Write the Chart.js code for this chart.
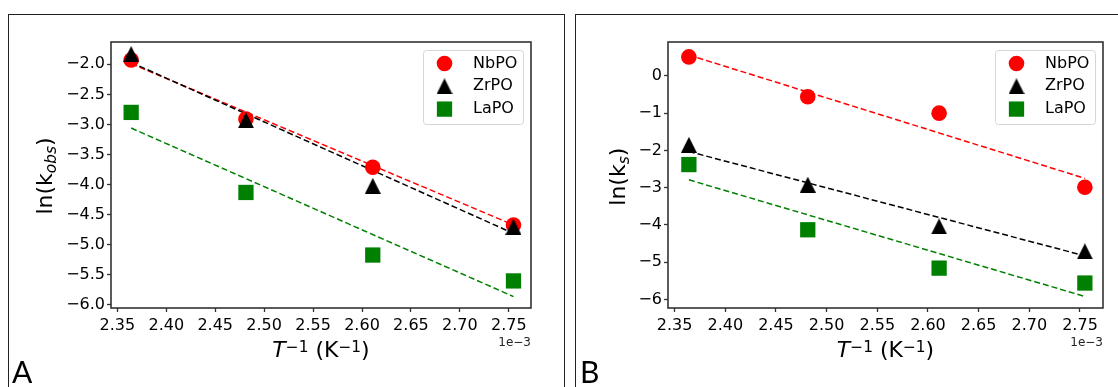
<!DOCTYPE html>
<html><head><meta charset="utf-8">
<script src="https://cdn.jsdelivr.net/npm/chart.js@4.4.1/dist/chart.umd.min.js"></script>
<style>
html,body{margin:0;padding:0;background:#fff;width:1118px;height:387px;overflow:hidden;}
#wrap{position:relative;width:1118px;height:387px;}
.box{position:absolute;border:1.5px solid #222;box-sizing:border-box;}
canvas{position:absolute;top:0;}
.lbl{position:absolute;font-family:Lato,'Open Sans',sans-serif;font-size:30px;color:#000;line-height:30px;}
</style></head>
<body><div id="wrap">
<div class="box" style="left:8px;top:14px;width:557px;height:400px;"></div>
<div class="box" style="left:575px;top:14px;width:560px;height:400px;"></div>
<canvas id="cA" width="570" height="387" style="left:0"></canvas>
<canvas id="cB" width="548" height="387" style="left:570px"></canvas>
<div class="lbl" style="left:12px;top:356px;">A</div>
<div class="lbl" style="left:580px;top:356px;">B</div>
</div>
<script>
// ---- data (x in units of 1e-3 K^-1) ----
const seriesNames = ['NbPO', 'ZrPO', 'LaPO'];
const xVals = [2.3641, 2.4814, 2.6110, 2.7548];
const fitX = [2.3641, 2.7548];
const xTickVals = [2.35, 2.40, 2.45, 2.50, 2.55, 2.60, 2.65, 2.70, 2.75];

const kobsNbPO = [-1.93, -2.91, -3.71, -4.67];
const kobsZrPO = [-1.83, -2.93, -4.02, -4.70];
const kobsLaPO = [-2.80, -4.13, -5.17, -5.60];
const kobsFitNbPO = [-1.99, -4.67];
const kobsFitZrPO = [-1.97, -4.81];
const kobsFitLaPO = [-3.06, -5.86];
const kobsTickVals = [-6.0, -5.5, -5.0, -4.5, -4.0, -3.5, -3.0, -2.5, -2.0];

const ksNbPO = [0.51, -0.56, -1.00, -2.99];
const ksZrPO = [-1.85, -2.92, -4.04, -4.71];
const ksLaPO = [-2.38, -4.13, -5.16, -5.56];
const ksFitNbPO = [0.56, -2.75];
const ksFitZrPO = [-2.03, -4.83];
const ksFitLaPO = [-2.79, -5.92];
const ksTickVals = [-6, -5, -4, -3, -2, -1, 0];

const colors = ['#ff0000', '#000000', '#008000'];
const FONT = "'DejaVu Sans', sans-serif";

function triImg(size) {
  const c = document.createElement('canvas');
  c.width = size; c.height = size;
  const g = c.getContext('2d');
  g.fillStyle = '#000';
  g.beginPath(); g.moveTo(size / 2, 0); g.lineTo(size, size); g.lineTo(0, size); g.closePath(); g.fill();
  return c;
}
const TRI = triImg(16);
const markerStyles = [
  { pointStyle: 'circle', radius: 7.8 },
  { pointStyle: TRI, radius: 8 },
  { pointStyle: 'rect', radius: 10.8 }
];

const pts = (xs, ys) => xs.map((x, i) => ({ x: x, y: ys[i] }));
const minus = s => s.replace('-', '\u2212');

function drawSegs(ctx, segs, cx, by) {
  let total = 0;
  segs.forEach(s => { ctx.font = (s.it ? 'italic ' : '') + s.size + 'px ' + FONT; s.w = ctx.measureText(s.t).width; total += s.w; });
  let x = cx - total / 2;
  ctx.textAlign = 'left'; ctx.textBaseline = 'alphabetic';
  segs.forEach(s => { ctx.font = (s.it ? 'italic ' : '') + s.size + 'px ' + FONT; ctx.fillText(s.t, x, by + (s.dy || 0)); x += s.w; });
}

function makePlugin(cfg) {
  return {
    id: 'deco' + cfg.id,
    afterDraw(chart) {
      const ctx = chart.ctx, ca = chart.chartArea;
      ctx.save();
      // frame
      ctx.strokeStyle = '#333'; ctx.lineWidth = 1.6;
      ctx.strokeRect(ca.left, ca.top, ca.right - ca.left, ca.bottom - ca.top);
      // legend
      const bw = 100, bh = 74;
      const bx = ca.right - 8 - bw, by = ca.top + 8;
      ctx.beginPath();
      ctx.roundRect(bx + 0.5, by + 0.5, bw, bh, 3);
      ctx.fillStyle = 'rgba(255,255,255,0.8)'; ctx.fill();
      ctx.strokeStyle = '#d6d6d6'; ctx.lineWidth = 1; ctx.stroke();
      seriesNames.forEach((name, i) => {
        const y = by + 13.5 + i * 22.8, x = bx + 21.5;
        const m = markerStyles[i];
        ctx.fillStyle = colors[i];
        if (m.pointStyle === 'circle') {
          ctx.beginPath(); ctx.arc(x, y, m.radius, 0, Math.PI * 2); ctx.fill();
        } else if (m.pointStyle === 'rect') {
          const s = m.radius * Math.SQRT1_2;
          ctx.fillRect(x - s, y - s, 2 * s, 2 * s);
        } else {
          ctx.drawImage(TRI, x - TRI.width / 2, y - TRI.height / 2);
        }
        ctx.fillStyle = '#000'; ctx.font = '16px ' + FONT;
        ctx.textAlign = 'left'; ctx.textBaseline = 'middle';
        ctx.fillText(name, bx + 50, y);
      });
      // offset text
      ctx.font = '12px ' + FONT; ctx.fillStyle = '#222';
      ctx.textAlign = 'right'; ctx.textBaseline = 'middle';
      ctx.fillText('1e\u22123', ca.right, 343);
      // x title
      ctx.fillStyle = '#000';
      drawSegs(ctx, [
        { t: 'T', size: 22, it: true },
        { t: '\u22121', size: 15.4, dy: -5 },
        { t: ' (K', size: 22 },
        { t: '\u22121', size: 15.4, dy: -5 },
        { t: ')', size: 22 }
      ], (ca.left + ca.right) / 2, 356.5);
      // y title
      ctx.save();
      ctx.translate(cfg.yTitleX, cfg.yTitleY);
      ctx.rotate(-Math.PI / 2);
      drawSegs(ctx, cfg.ySegs, 0, 0);
      ctx.restore();
      ctx.restore();
    }
  };
}

function makeChart(cfg) {
  const ds = [];
  const fits = cfg.fits, marks = cfg.marks;
  fits.forEach((f, i) => ds.push({
    label: seriesNames[i] + ' fit', data: pts(fitX, f), showLine: true, pointRadius: 0,
    borderColor: colors[i], borderWidth: 1.5, borderDash: [6, 3], order: 10 - i
  }));
  marks.forEach((m, i) => ds.push({
    label: seriesNames[i], data: pts(xVals, m), showLine: false,
    pointStyle: markerStyles[i].pointStyle, pointRadius: markerStyles[i].radius,
    pointHoverRadius: markerStyles[i].radius,
    pointBackgroundColor: colors[i], pointBorderColor: colors[i], pointBorderWidth: 0, order: 5 - i
  }));
  const tickFont = { family: FONT, size: 16 };
  return new Chart(document.getElementById(cfg.id), {
    type: 'scatter',
    data: { datasets: ds },
    options: {
      responsive: false, animation: false, devicePixelRatio: 1,
      layout: { padding: { left: cfg.padL, top: 42, right: cfg.padR, bottom: 49 } },
      plugins: { legend: { display: false }, tooltip: { enabled: false } },
      events: [],
      scales: {
        x: {
          type: 'linear', min: 2.3435, max: 2.7727,
          afterBuildTicks: s => { s.ticks = xTickVals.map(v => ({ value: v })); },
          afterFit: s => { s.height = 30; },
          border: { display: false },
          grid: { drawOnChartArea: false, drawTicks: true, tickLength: 4, tickWidth: 1.3, color: '#333' },
          ticks: { font: tickFont, color: '#000', padding: 4, maxRotation: 0, autoSkip: false,
                   callback: v => v.toFixed(2) }
        },
        y: {
          type: 'linear', min: cfg.yMin, max: cfg.yMax,
          afterBuildTicks: s => { s.ticks = cfg.yTicks.map(v => ({ value: v })); },
          afterFit: s => { s.width = 60; },
          border: { display: false },
          grid: { drawOnChartArea: false, drawTicks: true, tickLength: 4, tickWidth: 1.3, color: '#333' },
          ticks: { font: tickFont, color: '#000', padding: 2, autoSkip: false,
                   callback: v => minus(cfg.yFmt(v)) }
        }
      }
    },
    plugins: [makePlugin(cfg)]
  });
}

makeChart({
  id: 'cA', padL: 51, padR: 39, yMin: -6.05, yMax: -1.63, yTicks: kobsTickVals,
  yFmt: v => v.toFixed(1),
  marks: [kobsNbPO, kobsZrPO, kobsLaPO], fits: [kobsFitNbPO, kobsFitZrPO, kobsFitLaPO],
  yTitleX: 51.5, yTitleY: 176,
  ySegs: [{ t: 'ln(k', size: 22 }, { t: 'obs', size: 15.4, it: true, dy: 4 }, { t: ')', size: 22 }]
});
makeChart({
  id: 'cB', padL: 38, padR: 15, yMin: -6.23, yMax: 0.91, yTicks: ksTickVals,
  yFmt: v => v.toFixed(0),
  marks: [ksNbPO, ksZrPO, ksLaPO], fits: [ksFitNbPO, ksFitZrPO, ksFitLaPO],
  yTitleX: 55, yTitleY: 176.7,
  ySegs: [{ t: 'ln(k', size: 22 }, { t: 's', size: 15.4, it: true, dy: 4 }, { t: ')', size: 22 }]
});
</script>
</body></html>
